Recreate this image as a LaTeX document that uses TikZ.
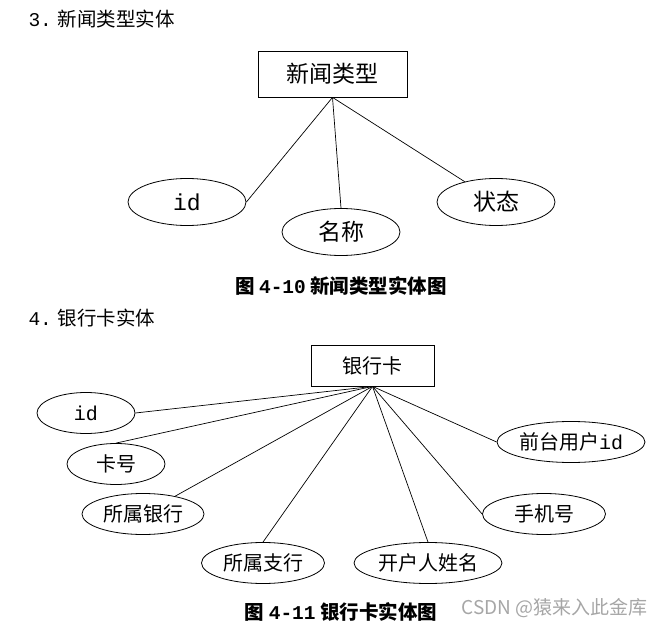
\documentclass[tikz,border=0pt]{standalone}
\usepackage{fontspec}
\setmainfont{Noto Sans CJK SC}
\newfontfamily\lm{Liberation Mono}
\usetikzlibrary{shapes.geometric,positioning}

\begin{document}
\begin{tikzpicture}[x=1pt,y=-1pt]

\tikzset{
  base/.style={draw, line width=0.8pt, align=center, inner sep=0pt},
  ent/.style={base, rectangle},
  attr/.style={base, ellipse, minimum height=41pt},
  big/.style={font=\fontsize{23}{26}\selectfont},
  small/.style={font=\fontsize{20}{23}\selectfont},
  head/.style={anchor=west, font=\fontsize{19.5}{22}\selectfont},
  capt/.style={font=\fontsize{19.5}{22}\selectfont\bfseries},
  conn/.style={draw, line width=0.7pt}
}

\useasboundingbox (0,0) rectangle (664,628);

% ---- 新闻类型 ----
\node[head] (h3) at (25,19) {{\lm 3.}\hspace{6pt}新闻类型实体};

\node[ent, big, minimum width=149pt, minimum height=46pt] (xwlx) at (332.5,74) {新闻类型};
\node[attr, big, minimum width=118pt, minimum height=47pt] (xid) at (187,202) {\lm id};
\node[attr, big, minimum width=118pt, minimum height=47pt] (mc) at (341,232) {名称};
\node[attr, big, minimum width=118pt, minimum height=47pt] (zt) at (496,202) {状态};

\draw[conn] (xwlx.south) -- (xid.east);
\draw[conn] (xwlx.south) -- (mc.north);
\draw[conn] (xwlx.south) -- (zt.147);

\node[capt] (c10) at (341,286) {图 {\lm 4-10} 新闻类型实体图};

% ---- 银行卡 ----
\node[head] (h4) at (25,318) {{\lm 4.}\hspace{6pt}银行卡实体};

\node[ent, small, minimum width=123pt, minimum height=41pt] (yhk) at (372.5,365.5) {银行卡};
\node[attr, small, minimum width=98pt] (kid) at (86,413) {\lm id};
\node[attr, small, minimum width=98pt] (kh) at (116,464) {卡号};
\node[attr, small, minimum width=122pt] (ssyh) at (143,514) {所属银行};
\node[attr, small, minimum width=123pt] (sszh) at (263,563) {所属支行};
\node[attr, small, minimum width=148pt] (khr) at (428,563) {开户人姓名};
\node[attr, small, minimum width=123pt] (sjh) at (544,514) {手机号};
\node[attr, small, minimum width=148pt] (qtid) at (571,442) {前台用户{\lm id}};

\draw[conn] (yhk.south) -- (kid.east);
\draw[conn] (yhk.south) -- (kh.north);
\draw[conn] (yhk.south) -- (ssyh.29);
\draw[conn] (yhk.south) -- (sszh.north);
\draw[conn] (yhk.south) -- (khr.north);
\draw[conn] (yhk.south) -- (sjh.west);
\draw[conn] (yhk.south) -- (qtid.west);

\node[capt] (c11) at (341,612) {图 {\lm 4-11} 银行卡实体图};
\node[font=\fontsize{19}{21}\selectfont, text=black!35, anchor=west] (wm) at (458,608) {CSDN @猿来入此金库};

\end{tikzpicture}
\end{document}
